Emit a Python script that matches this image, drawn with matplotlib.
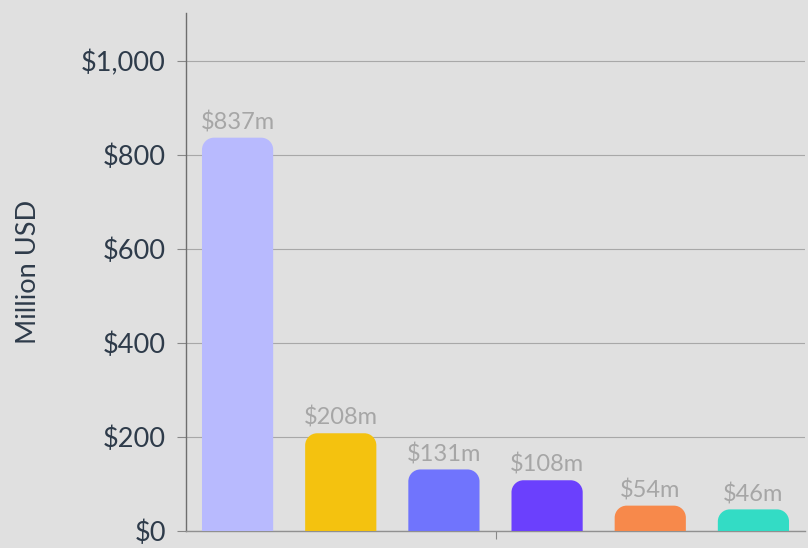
import matplotlib.pyplot as plt
from matplotlib.path import Path
from matplotlib.patches import PathPatch

# Data
categories = ['A', 'B', 'C', 'D', 'E', 'F']
values = [837, 208, 131, 108, 54, 46]
bar_labels = ['$837m', '$208m', '$131m', '$108m', '$54m', '$46m']
colors = ['#b8bafe', '#f4c20f', '#7074fd', '#6b40fd', '#f7894b', '#33dcc5']
y_ticks = [0, 200, 400, 600, 800, 1000]
y_tick_labels = ['$0', '$200', '$400', '$600', '$800', '$1,000']

plt.rcParams['font.family'] = ['Lato', 'DejaVu Sans']
bg = '#e0e0e0'

fig = plt.figure(figsize=(8.08, 5.48), dpi=100, facecolor=bg)
ax = fig.add_axes([0.2302, 0.031, 0.7661, 0.945])
ax.set_facecolor(bg)

x = list(range(len(categories)))
bars = ax.bar(x, values, width=0.69, color=colors)
ax.set_xlim(-0.5, len(categories) - 0.5)
ax.set_ylim(0, 1102)

# rounded tops: replace each bar with a path, radius given in pixels
fig.canvas.draw()
to_px = ax.transData
(x0p, y0p), (x1p, y1p) = to_px.transform([(0, 0), (1, 100)])
px_per_x = x1p - x0p
px_per_y = (y1p - y0p) / 100.0
radius_px = 12
for b in bars:
    b.set_visible(False)
    bx, by = b.get_x(), b.get_y()
    bw, bh = b.get_width(), b.get_height()
    r_px = min(radius_px, bh * px_per_y * 0.9)
    rx = r_px / px_per_x
    ry = r_px / px_per_y
    k = 0.5523
    verts = [
        (bx, by),
        (bx, by + bh - ry),
        (bx, by + bh - ry + k * ry), (bx + rx - k * rx, by + bh), (bx + rx, by + bh),
        (bx + bw - rx, by + bh),
        (bx + bw - rx + k * rx, by + bh), (bx + bw, by + bh - ry + k * ry), (bx + bw, by + bh - ry),
        (bx + bw, by),
        (bx, by),
    ]
    codes = [Path.MOVETO, Path.LINETO,
             Path.CURVE4, Path.CURVE4, Path.CURVE4,
             Path.LINETO,
             Path.CURVE4, Path.CURVE4, Path.CURVE4,
             Path.LINETO, Path.CLOSEPOLY]
    ax.add_patch(PathPatch(Path(verts, codes), facecolor=b.get_facecolor(),
                           edgecolor='none', zorder=3))

for xi, v, lab in zip(x, values, bar_labels):
    ax.annotate(lab, (xi, v), xytext=(0, 6), textcoords='offset points',
                ha='center', va='baseline', fontsize=17, color='#a6a6a6')

ax.set_yticks(y_ticks)
ax.set_yticklabels(y_tick_labels, fontsize=19.5, color='#2e3b4a')
ax.set_xticks([2.5])
ax.set_xticklabels([''])
ax.tick_params(axis='y', length=6.5, width=0.8, color='#888888', pad=8)
ax.tick_params(axis='x', length=6, width=0.8, color='#888888')
ax.yaxis.grid(True, color='#a8a8a8', linewidth=0.8)
ax.set_axisbelow(True)

for s in ['top', 'right']:
    ax.spines[s].set_visible(False)
ax.spines['left'].set_color('#6e6e6e')
ax.spines['bottom'].set_color('#909090')
ax.spines['left'].set_linewidth(1.0)
ax.spines['bottom'].set_linewidth(1.0)

ax.set_ylabel('Million USD', fontsize=19.5, color='#2e3b4a')
ax.yaxis.set_label_coords(-0.235, 0.5)

fig.savefig('out.png', dpi=100, facecolor=bg)
